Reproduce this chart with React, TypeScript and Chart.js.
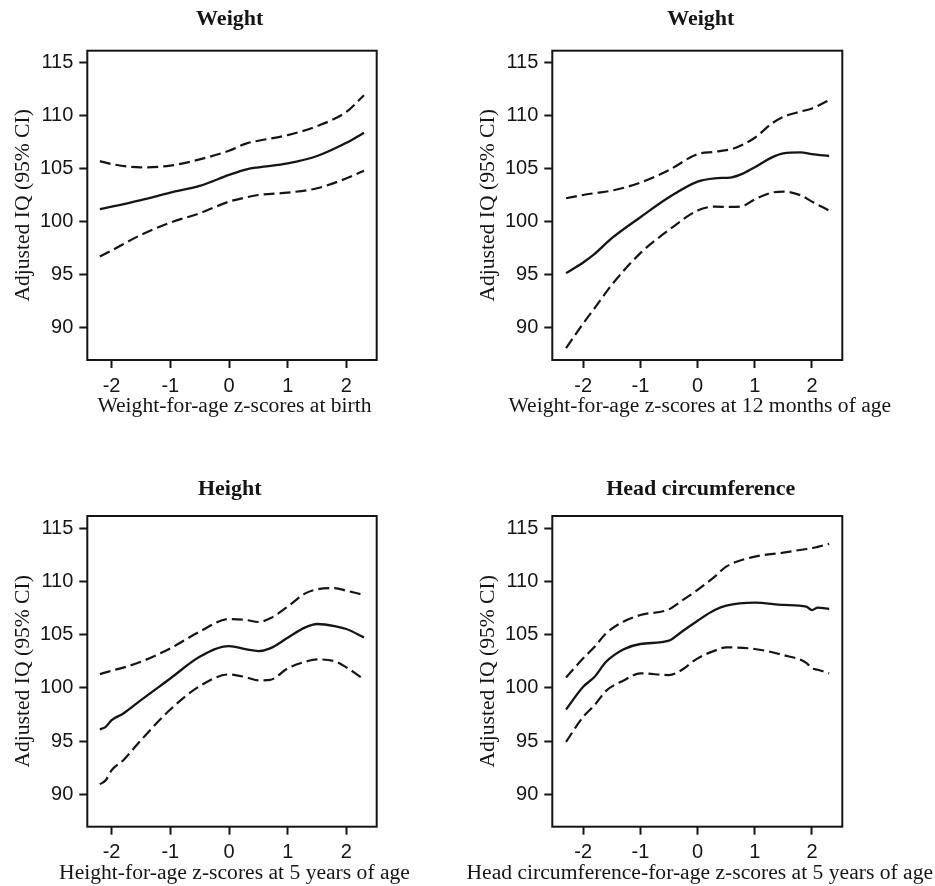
import React, { useEffect, useRef } from "react";
import { Chart, registerables } from "chart.js";

Chart.register(...registerables);

// ---------- shared ticks ----------
const xTickValues = [-2, -1, 0, 1, 2];
const yTickValues = [90, 95, 100, 105, 110, 115];
const yAxisTitle = "Adjusted IQ (95% CI)";

// ---------- panel 1: weight at birth ----------
const p1Title = "Weight";
const p1XTitle = "Weight-for-age z-scores at birth";
const p1X = [-2.2, -2, -1.5, -1, -0.5, 0, 0.3, 0.5, 1, 1.5, 2, 2.3];
const p1Fit = [101.2, 101.43, 102.05, 102.75, 103.38, 104.42, 104.95, 105.14, 105.51, 106.21, 107.46, 108.4];
const p1Upper = [105.73, 105.45, 105.13, 105.3, 105.89, 106.71, 107.4, 107.65, 108.18, 109.03, 110.38, 111.95];
const p1Lower = [96.72, 97.29, 98.76, 99.92, 100.8, 101.9, 102.31, 102.53, 102.75, 103.16, 104.1, 104.82];

// ---------- panel 2: weight at 12 months ----------
const p2Title = "Weight";
const p2XTitle = "Weight-for-age z-scores at 12 months of age";
const p2X = [-2.3, -2, -1.8, -1.5, -1, -0.5, 0, 0.3, 0.6, 0.8, 1, 1.3, 1.5, 1.8, 2, 2.3];
const p2Fit = [95.15, 96.16, 96.97, 98.45, 100.43, 102.31, 103.79, 104.1, 104.2, 104.57, 105.14, 106.08, 106.46, 106.55, 106.39, 106.21];
const p2Upper = [102.22, 102.53, 102.7, 102.94, 103.69, 104.89, 106.39, 106.61, 106.87, 107.3, 107.93, 109.28, 109.91, 110.4, 110.7, 111.48];
const p2Lower = [88.08, 90.4, 91.85, 94.05, 97.04, 99.23, 101.06, 101.43, 101.4, 101.5, 102.12, 102.75, 102.85, 102.5, 101.9, 101.06];

// ---------- panel 3: height at 5 years ----------
const p3Title = "Height";
const p3XTitle = "Height-for-age z-scores at 5 years of age";
const p3X = [-2.2, -2.1, -2, -1.8, -1.5, -1, -0.5, 0, 0.3, 0.5, 0.7, 1, 1.3, 1.5, 1.8, 2, 2.3];
const p3Fit = [96.09, 96.34, 96.96, 97.59, 98.85, 100.88, 102.92, 103.93, 103.61, 103.46, 103.71, 104.71, 105.68, 106.0, 105.81, 105.53, 104.74];
const p3Upper = [101.29, 101.45, 101.61, 101.9, 102.45, 103.71, 105.28, 106.47, 106.37, 106.19, 106.53, 107.63, 108.88, 109.25, 109.38, 109.13, 108.73];
const p3Lower = [90.94, 91.32, 92.26, 93.2, 95.08, 97.97, 100.16, 101.26, 100.98, 100.7, 100.75, 101.83, 102.45, 102.67, 102.5, 101.92, 100.79];

// ---------- panel 4: head circumference at 5 years ----------
const p4Title = "Head circumference";
const p4XTitle = "Head circumference-for-age z-scores at 5 years of age";
const p4X = [-2.3, -2, -1.8, -1.6, -1.3, -1, -0.5, -0.3, 0, 0.3, 0.5, 1, 1.5, 1.9, 2, 2.1, 2.3];
const p4Fit = [97.97, 100.1, 101.04, 102.45, 103.61, 104.12, 104.43, 105.18, 106.31, 107.31, 107.72, 108.0, 107.79, 107.63, 107.31, 107.53, 107.41];
const p4Upper = [100.98, 102.77, 103.86, 105.12, 106.22, 106.84, 107.38, 108.1, 109.2, 110.45, 111.39, 112.33, 112.71, 113.05, 113.12, 113.25, 113.53];
const p4Lower = [94.92, 97.28, 98.38, 99.72, 100.67, 101.36, 101.2, 101.6, 102.77, 103.5, 103.8, 103.65, 103.08, 102.35, 101.83, 101.7, 101.36];

const INK = "#151515";
const SERIF = "'Liberation Serif', 'Times New Roman', serif";
const SANS = "'Liberation Sans', Arial, sans-serif";

type Panel = {
  title: string;
  xTitle: string;
  xs: number[];
  fit: number[];
  upper: number[];
  lower: number[];
  xMin: number;
  xMax: number;
  left: number;
  top: number;
  width: number;
  height: number;
  pad: { left: number; right: number; top: number; bottom: number };
  titleDy: number;
  titleDx: number;
};

const panels: Panel[] = [
  {
    title: p1Title, xTitle: p1XTitle, xs: p1X, fit: p1Fit, upper: p1Upper, lower: p1Lower,
    xMin: -2.414, xMax: 2.516,
    left: 0, top: 0, width: 455, height: 440,
    pad: { left: 0.3, right: 78.3, top: 50.7, bottom: 30 },
    titleDy: 31.4, titleDx: -2.3,
  },
  {
    title: p2Title, xTitle: p2XTitle, xs: p2X, fit: p2Fit, upper: p2Upper, lower: p2Lower,
    xMin: -2.54, xMax: 2.53,
    left: 455, top: 0, width: 480, height: 440,
    pad: { left: 10.3, right: 92.7, top: 50.7, bottom: 30 },
    titleDy: 31.4, titleDx: 3.5,
  },
  {
    title: p3Title, xTitle: p3XTitle, xs: p3X, fit: p3Fit, upper: p3Upper, lower: p3Lower,
    xMin: -2.414, xMax: 2.516,
    left: 0, top: 440, width: 455, height: 446,
    pad: { left: 0.3, right: 78.3, top: 76, bottom: 9.3 },
    titleDy: 26.7, titleDx: -2.3,
  },
  {
    title: p4Title, xTitle: p4XTitle, xs: p4X, fit: p4Fit, upper: p4Upper, lower: p4Lower,
    xMin: -2.54, xMax: 2.53,
    left: 455, top: 440, width: 480, height: 446,
    pad: { left: 10.3, right: 92.7, top: 76, bottom: 9.3 },
    titleDy: 26.7, titleDx: 3.5,
  },
];

const decorPlugin = {
  id: "panelDecor",
  afterDraw(chart: any, _args: any, opts: any) {
    const { ctx, chartArea } = chart;
    const { left, right, top, bottom } = chartArea;
    ctx.save();
    // frame
    ctx.strokeStyle = INK;
    ctx.lineWidth = 2;
    ctx.strokeRect(left, top, right - left, bottom - top);
    // panel title
    const cx = (left + right) / 2;
    ctx.fillStyle = INK;
    ctx.textAlign = "center";
    ctx.textBaseline = "middle";
    ctx.font = `bold 22px ${SERIF}`;
    ctx.fillText(opts.title, cx + opts.titleDx, top - opts.titleDy);
    // x-axis title
    ctx.font = `21.6px ${SERIF}`;
    ctx.fillText(opts.xTitle, cx + 2.5, bottom + 46.7);
    ctx.restore();
  },
};

function PanelChart({ p }: { p: Panel }) {
  const ref = useRef<HTMLCanvasElement | null>(null);
  useEffect(() => {
    const canvas = ref.current;
    if (!canvas) return;
    const pts = (ys: number[]) => p.xs.map((x, i) => ({ x, y: ys[i] }));
    const common = {
      showLine: true,
      pointRadius: 0,
      pointHoverRadius: 0,
      borderColor: INK,
      cubicInterpolationMode: "monotone" as const,
      fill: false,
    };
    const chart = new Chart(canvas, {
      type: "scatter",
      data: {
        datasets: [
          { ...common, label: "Upper 95% CI", data: pts(p.upper), borderWidth: 2.2, borderDash: [11, 5] },
          { ...common, label: "Lower 95% CI", data: pts(p.lower), borderWidth: 2.2, borderDash: [11, 5] },
          { ...common, label: "Adjusted IQ", data: pts(p.fit), borderWidth: 2.3 },
        ],
      },
      options: {
        responsive: false,
        animation: false,
        devicePixelRatio: 1,
        layout: { padding: p.pad },
        plugins: {
          legend: { display: false },
          tooltip: { enabled: false },
          title: { display: false },
          panelDecor: { title: p.title, xTitle: p.xTitle, titleDy: p.titleDy, titleDx: p.titleDx },
        } as any,
        scales: {
          x: {
            type: "linear",
            min: p.xMin,
            max: p.xMax,
            afterBuildTicks: (s: any) => {
              s.ticks = xTickValues.map((v) => ({ value: v }));
            },
            afterFit: (s: any) => {
              s.height = 50;
            },
            grid: {
              display: true,
              drawOnChartArea: false,
              drawTicks: true,
              tickLength: 8,
              tickWidth: 2,
              tickColor: INK,
            },
            border: { display: false },
            ticks: {
              color: INK,
              padding: 6,
              maxRotation: 0,
              autoSkip: false,
              font: { family: SANS, size: 20 },
              callback: (v: any) => String(v),
            },
          },
          y: {
            type: "linear",
            min: 86.95,
            max: 116.15,
            afterBuildTicks: (s: any) => {
              s.ticks = yTickValues.map((v) => ({ value: v }));
            },
            afterFit: (s: any) => {
              s.width = 87;
            },
            grid: {
              display: true,
              drawOnChartArea: false,
              drawTicks: true,
              tickLength: 8,
              tickWidth: 2,
              tickColor: INK,
            },
            border: { display: false },
            ticks: {
              color: INK,
              padding: 6,
              autoSkip: false,
              font: { family: SANS, size: 20 },
              callback: (v: any) => String(v),
            },
            title: {
              display: true,
              text: yAxisTitle,
              color: INK,
              font: { family: SERIF, size: 21.6 },
              padding: { top: 10, bottom: 0 },
            },
          },
        },
      },
      plugins: [decorPlugin],
    });
    return () => chart.destroy();
  }, [p]);
  return (
    <canvas
      ref={ref}
      width={p.width}
      height={p.height}
      style={{ position: "absolute", left: p.left, top: p.top, width: p.width, height: p.height }}
    />
  );
}

export default function App() {
  return (
    <div style={{ position: "absolute", left: 0, top: 0, width: 935, height: 886, background: "#fff" }}>
      {panels.map((p, i) => (
        <PanelChart key={i} p={p} />
      ))}
    </div>
  );
}
